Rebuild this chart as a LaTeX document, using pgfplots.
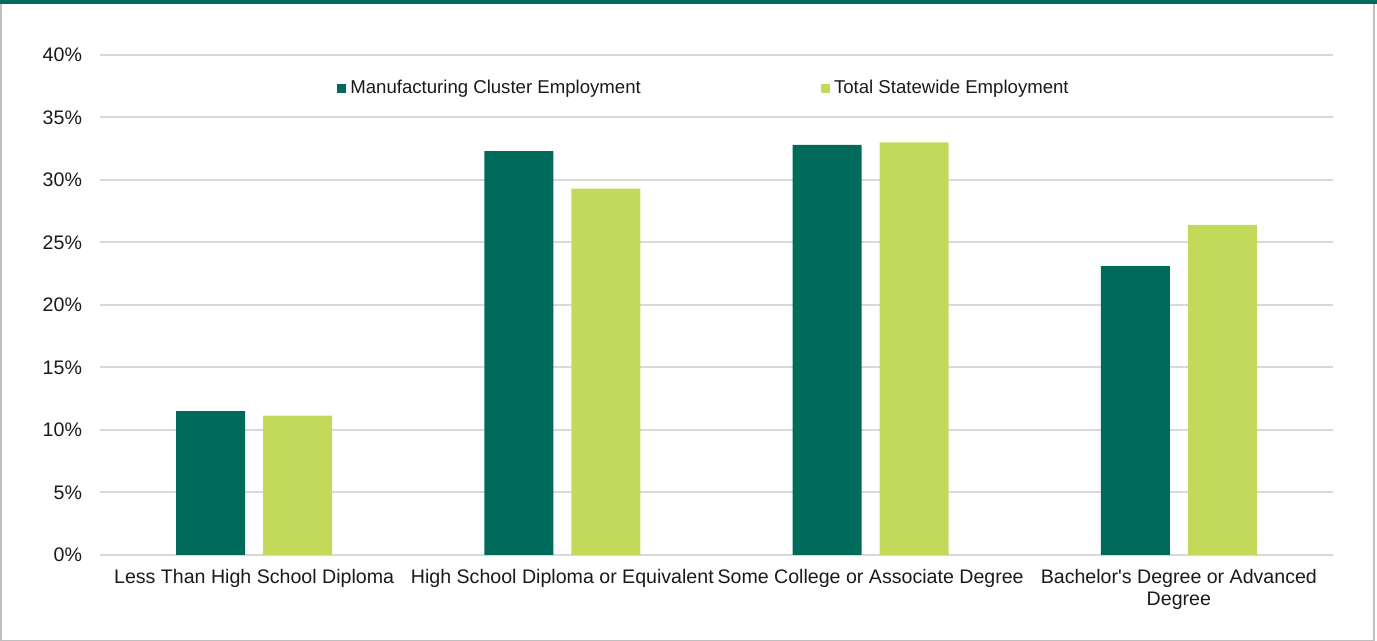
\documentclass[border=0pt]{standalone}
\usepackage{pgfplots}
\pgfplotsset{compat=1.18}
\usepackage{fontspec}
\setmainfont{Liberation Sans}
\definecolor{dkgreen}{HTML}{006B5B}
\definecolor{ltgreen}{HTML}{C2D95A}
\definecolor{gridgray}{HTML}{D9D9D9}
\definecolor{txt}{HTML}{1A1A1A}
\begin{document}
\begin{tikzpicture}[x=1pt,y=1pt]
\path[use as bounding box] (0,0) rectangle (688.5,320.5);
\draw[color=black!25, line width=0.6pt] (0.5,0.3) rectangle (687,320);
\fill[dkgreen] (0,318.5) rectangle (688.5,320.5);
\begin{axis}[
  at={(50pt,43pt)}, anchor=south west,
  scale only axis, width=616.5pt, height=250pt,
  ybar=9pt, bar width=34.5pt,
  xmin=-0.5, xmax=3.5, ymin=0, ymax=40,
  enlargelimits=false,
  xtick=data,
  xticklabels={Less Than High School Diploma, High School Diploma or Equivalent, Some College or Associate Degree, {Bachelor\textquotesingle s Degree or Advanced\\Degree}},
  ytick={0,5,...,40},
  yticklabel={\pgfmathprintnumber{\tick}\%},
  /pgf/number format/assume math mode=true,
  axis line style={draw=none},
  major tick length=0pt,
  ymajorgrids, grid style={gridgray, line width=1pt},
  tick label style={font=\fontsize{9.8}{11.2}\selectfont, text=txt},
  xticklabel style={align=center, yshift=-3.5pt},
  yticklabel style={xshift=-5.5pt},
  legend style={draw=none, fill=none, at={(0.192,0.933)}, anchor=west,
    font=\fontsize{9.3}{11}\selectfont, text=txt, legend columns=2,
    /tikz/every even column/.append style={column sep=88pt},
    inner sep=0pt},
  legend image code/.code={\fill[#1] (0pt,-2.3pt) rectangle (4.6pt,2.3pt);},
]
\addplot[fill=dkgreen, draw=none] coordinates {(0,11.5) (1,32.3) (2,32.8) (3,23.1)};
\addplot[fill=ltgreen, draw=none] coordinates {(0,11.15) (1,29.3) (2,33.0) (3,26.4)};
\legend{Manufacturing Cluster Employment, Total Statewide Employment}
\end{axis}
\end{tikzpicture}
\end{document}
